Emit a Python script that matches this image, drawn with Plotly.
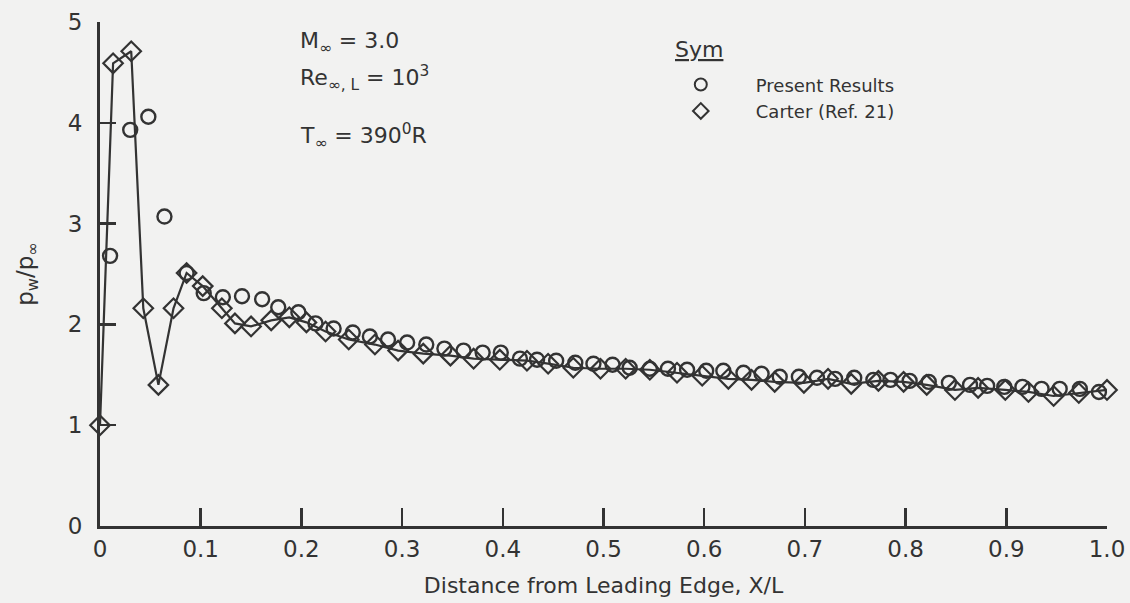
import plotly.graph_objects as go

# ---------------- data ----------------
present_x = [0.010, 0.030, 0.048, 0.064, 0.086, 0.103, 0.122, 0.141, 0.161, 0.177,
             0.197, 0.214, 0.232, 0.251, 0.268, 0.286, 0.305, 0.324, 0.342, 0.361,
             0.380, 0.398, 0.417, 0.434, 0.453, 0.472, 0.490, 0.509, 0.526, 0.546,
             0.564, 0.583, 0.602, 0.619, 0.639, 0.657, 0.675, 0.694, 0.712, 0.730,
             0.749, 0.768, 0.785, 0.804, 0.823, 0.843, 0.864, 0.881, 0.898, 0.916,
             0.935, 0.953, 0.973, 0.992]
present_y = [2.68, 3.93, 4.06, 3.07, 2.51, 2.31, 2.27, 2.28, 2.25, 2.17,
             2.12, 2.01, 1.96, 1.92, 1.88, 1.85, 1.82, 1.80, 1.76, 1.74,
             1.72, 1.72, 1.66, 1.65, 1.64, 1.62, 1.61, 1.60, 1.57, 1.56,
             1.56, 1.55, 1.54, 1.54, 1.52, 1.51, 1.48, 1.48, 1.47, 1.46,
             1.47, 1.45, 1.45, 1.44, 1.43, 1.42, 1.40, 1.39, 1.38, 1.38,
             1.36, 1.36, 1.36, 1.33]

carter_x = [0.000, 0.013, 0.031, 0.043, 0.058, 0.073, 0.086, 0.102, 0.121, 0.134,
            0.150, 0.170, 0.188, 0.205, 0.224, 0.247, 0.273, 0.296, 0.321, 0.348,
            0.371, 0.397, 0.424, 0.445, 0.470, 0.497, 0.522, 0.546, 0.573, 0.598,
            0.624, 0.647, 0.670, 0.699, 0.723, 0.746, 0.773, 0.798, 0.821, 0.849,
            0.872, 0.899, 0.922, 0.947, 0.972, 1.000]
carter_y = [1.00, 4.59, 4.71, 2.16, 1.40, 2.16, 2.51, 2.38, 2.16, 2.01,
            1.98, 2.04, 2.07, 2.02, 1.93, 1.85, 1.80, 1.74, 1.71, 1.69,
            1.66, 1.65, 1.64, 1.61, 1.57, 1.56, 1.56, 1.55, 1.52, 1.49,
            1.46, 1.45, 1.43, 1.42, 1.46, 1.41, 1.44, 1.43, 1.40, 1.35,
            1.37, 1.35, 1.33, 1.29, 1.32, 1.35]

x_tickvals = [0, 0.1, 0.2, 0.3, 0.4, 0.5, 0.6, 0.7, 0.8, 0.9, 1.0]
x_ticktext = ["0", "0.1", "0.2", "0.3", "0.4", "0.5", "0.6", "0.7", "0.8", "0.9", "1.0"]
y_tickvals = [0, 1, 2, 3, 4, 5]
y_ticktext = ["0", "1", "2", "3", "4", "5"]

series_names = ["Present Results", "Carter (Ref. 21)"]

# ---------------- style ----------------
INK = "#333333"
BG = "#f2f2f1"
FONT = "DejaVu Sans"

fig = go.Figure()

fig.add_trace(go.Scatter(
    x=carter_x, y=carter_y, mode="lines",
    line=dict(color=INK, width=2.2),
    showlegend=False, cliponaxis=False, hoverinfo="skip"))

fig.add_trace(go.Scatter(
    x=present_x, y=present_y, mode="markers", name=series_names[0],
    marker=dict(symbol="circle-open", size=14, color=INK, line=dict(width=2.4, color=INK)),
    cliponaxis=False))

fig.add_trace(go.Scatter(
    x=carter_x, y=carter_y, mode="markers", name=series_names[1],
    marker=dict(symbol="diamond-open", size=15, color=INK, line=dict(width=2.2, color=INK)),
    cliponaxis=False))

axis_common = dict(
    showline=True, linewidth=3, linecolor=INK, mirror=False,
    showgrid=False, zeroline=False, automargin=False,
    ticks="inside", tickwidth=2.5, tickcolor=INK,
    tickfont=dict(family=FONT, size=23, color=INK),
    fixedrange=True,
)

fig.update_xaxes(
    range=[0, 1.0], tickmode="array", tickvals=x_tickvals, ticktext=x_ticktext,
    ticklen=18, ticklabelstandoff=0,
    title=dict(text="Distance from Leading Edge, X/L",
               font=dict(family=FONT, size=22, color=INK), standoff=18),
    **axis_common)

fig.update_yaxes(
    range=[0, 5], tickmode="array", tickvals=y_tickvals, ticktext=y_ticktext,
    ticklen=16, ticklabelstandoff=10,
    title=dict(text="p<sub>w</sub>/p<sub>∞</sub>",
               font=dict(family=FONT, size=23, color=INK), standoff=28),
    **axis_common)

annot_font = dict(family=FONT, size=22, color=INK)
fig.add_annotation(xref="x", yref="y", x=0.197, y=4.80, xanchor="left", yanchor="middle",
                   text="M<sub>∞</sub> = 3.0", showarrow=False, font=annot_font)
fig.add_annotation(xref="x", yref="y", x=0.197, y=4.44, xanchor="left", yanchor="middle",
                   text="Re<sub>∞, L</sub> = 10<sup>3</sup>", showarrow=False, font=annot_font)
fig.add_annotation(xref="x", yref="y", x=0.197, y=3.87, xanchor="left", yanchor="middle",
                   text="T<sub>∞</sub> = 390<sup>0</sup>R", showarrow=False, font=annot_font)
fig.add_annotation(xref="x", yref="y", x=0.569, y=4.73, xanchor="left", yanchor="middle",
                   text="<u>Sym</u>", showarrow=False, font=annot_font)

fig.update_layout(
    width=1130, height=603,
    margin=dict(l=100, r=23, t=22, b=77),
    paper_bgcolor=BG, plot_bgcolor=BG,
    font=dict(family=FONT, color=INK),
    showlegend=True,
    legend=dict(x=0.542, y=0.912, xanchor="left", yanchor="top",
                bgcolor="rgba(0,0,0,0)", itemsizing="constant", itemwidth=100,
                font=dict(family=FONT, size=18, color=INK), tracegroupgap=0),
)

fig.write_html(
    "out.html",
    config={"displayModeBar": False, "staticPlot": True},
    post_script="document.body.style.margin='0';document.body.style.background='#f2f2f1';",
)
